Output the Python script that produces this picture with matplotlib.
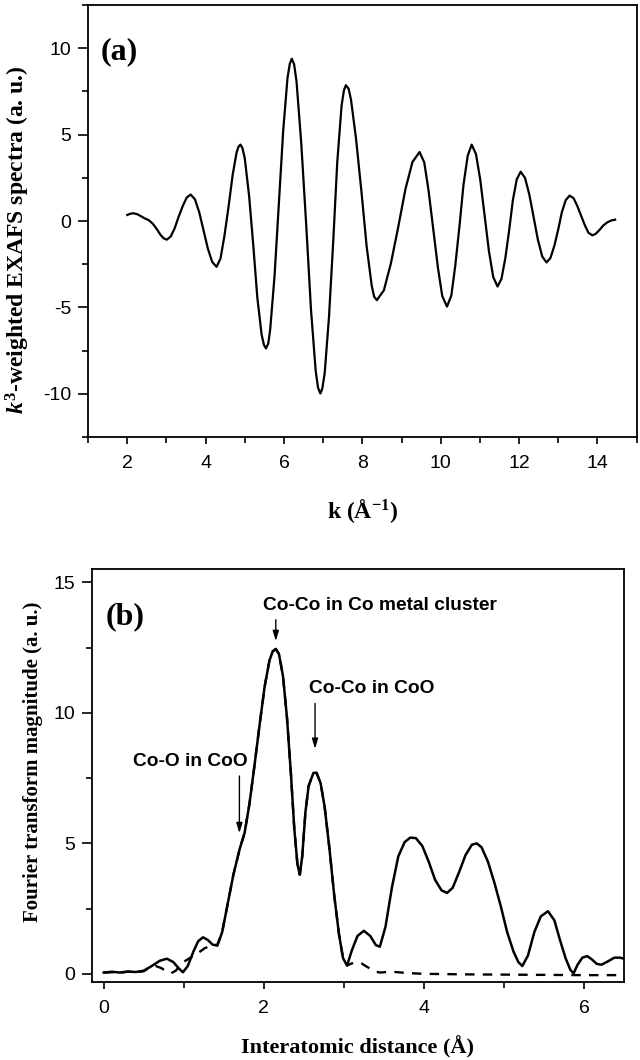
import matplotlib
matplotlib.use("Agg")
import matplotlib.pyplot as plt
from matplotlib.ticker import MultipleLocator

plt.rcParams['font.family'] = ['Liberation Sans', 'DejaVu Sans']
plt.rcParams['axes.unicode_minus'] = False
plt.rcParams['mathtext.fontset'] = 'custom'
plt.rcParams['mathtext.rm'] = 'Liberation Serif:bold'
plt.rcParams['mathtext.it'] = 'Liberation Serif:italic:bold'
plt.rcParams['mathtext.bf'] = 'Liberation Serif:bold'

# (a) k^3-weighted EXAFS spectrum
k = [2.00, 2.08, 2.15, 2.25, 2.35, 2.45, 2.55, 2.65, 2.75, 2.85, 2.93,
     3.01, 3.11, 3.21, 3.31, 3.42, 3.52,
     3.62, 3.73, 3.84, 3.95, 4.06, 4.17,
     4.28, 4.38, 4.48, 4.59, 4.69, 4.79, 4.84,
     4.89, 4.94, 5.00, 5.11, 5.22, 5.32, 5.43, 5.49,
     5.54, 5.60, 5.65, 5.76, 5.87, 5.98, 6.09, 6.15,
     6.20, 6.26, 6.32, 6.44, 6.57, 6.69, 6.81, 6.87,
     6.93, 6.98, 7.04, 7.15, 7.26, 7.36, 7.47, 7.53,
     7.58, 7.65, 7.71, 7.84, 7.98, 8.11, 8.24, 8.30,
     8.37, 8.55, 8.73, 8.92, 9.10, 9.28,
     9.46, 9.58, 9.69, 9.81, 9.93, 10.04,
     10.16, 10.27, 10.37, 10.48, 10.58, 10.69,
     10.79, 10.90, 11.01, 11.12, 11.23, 11.34,
     11.45, 11.55, 11.65, 11.75, 11.84, 11.94,
     12.04, 12.15, 12.26, 12.37, 12.48, 12.59,
     12.70, 12.80, 12.90, 13.00, 13.09, 13.19,
     13.29, 13.39, 13.48, 13.58, 13.68, 13.77,
     13.87, 13.95, 14.05, 14.15, 14.25, 14.35, 14.45]
chi = [0.35, 0.42, 0.45, 0.40, 0.28, 0.15, 0.05, -0.15, -0.45, -0.80, -1.00,
       -1.08, -0.90, -0.43, 0.23, 0.88, 1.36,
       1.53, 1.25, 0.49, -0.56, -1.61, -2.37,
       -2.65, -2.18, -0.88, 0.89, 2.65, 3.95, 4.30,
       4.42, 4.22, 3.63, 1.47, -1.48, -4.42, -6.58, -7.17,
       -7.37, -7.09, -6.25, -3.18, 1.01, 5.20, 8.27, 9.11,
       9.39, 9.06, 8.09, 4.55, -0.30, -5.14, -8.68, -9.65,
       -9.98, -9.68, -8.79, -5.52, -1.06, 3.40, 6.67, 7.56,
       7.86, 7.65, 7.03, 4.75, 1.64, -1.47, -3.75, -4.37,
       -4.58, -4.01, -2.44, -0.30, 1.85, 3.42,
       3.99, 3.39, 1.76, -0.48, -2.72, -4.35,
       -4.95, -4.32, -2.61, -0.27, 2.08, 3.79,
       4.42, 3.87, 2.37, 0.32, -1.74, -3.24,
       -3.79, -3.35, -2.13, -0.47, 1.19, 2.41,
       2.85, 2.50, 1.54, 0.23, -1.09, -2.05,
       -2.40, -2.14, -1.43, -0.47, 0.50, 1.21,
       1.47, 1.32, 0.90, 0.32, -0.26, -0.68,
       -0.83, -0.75, -0.52, -0.25, -0.08, 0.03, 0.08]

# (b) Fourier transform magnitude, experiment (solid)
r = [0.00, 0.10, 0.20, 0.30, 0.40, 0.50, 0.60, 0.70, 0.79, 0.87, 0.94, 0.99,
     1.05, 1.12, 1.18, 1.24, 1.30, 1.36, 1.42,
     1.48, 1.55, 1.62, 1.70, 1.76, 1.82, 1.88, 1.95, 2.01, 2.07, 2.11, 2.15,
     2.19, 2.24, 2.29, 2.34, 2.38, 2.42, 2.45, 2.48, 2.52, 2.56, 2.62, 2.66,
     2.71, 2.76, 2.82, 2.88, 2.94, 2.99, 3.04,
     3.10, 3.17, 3.25, 3.33, 3.40, 3.45, 3.52, 3.60, 3.68, 3.76, 3.83, 3.90,
     3.98, 4.06, 4.14, 4.22, 4.29, 4.36, 4.44, 4.52, 4.60, 4.66, 4.72, 4.80,
     4.88, 4.96, 5.04, 5.12, 5.18, 5.23, 5.30, 5.38, 5.46, 5.55, 5.63, 5.70,
     5.77, 5.83, 5.87, 5.92, 5.98, 6.04, 6.10, 6.16, 6.22, 6.30, 6.38, 6.45, 6.50]
ft = [0.05, 0.08, 0.05, 0.09, 0.07, 0.12, 0.30, 0.50, 0.58, 0.45, 0.20, 0.06,
      0.30, 0.85, 1.25, 1.40, 1.30, 1.12, 1.08,
      1.60, 2.70, 3.80, 4.80, 5.40, 6.50, 7.90, 9.60, 11.00, 12.00, 12.35, 12.45,
      12.25, 11.40, 9.80, 7.60, 5.60, 4.20, 3.80, 4.50, 6.20, 7.20, 7.70, 7.70,
      7.30, 6.40, 4.80, 3.00, 1.50, 0.60, 0.32,
      0.90, 1.45, 1.65, 1.45, 1.10, 1.04, 1.80, 3.30, 4.50, 5.05, 5.22, 5.20,
      4.90, 4.30, 3.60, 3.20, 3.10, 3.30, 3.90, 4.55, 4.95, 5.00, 4.85, 4.30,
      3.50, 2.60, 1.60, 0.85, 0.45, 0.30, 0.70, 1.60, 2.20, 2.40, 2.05, 1.30,
      0.60, 0.15, 0.02, 0.35, 0.62, 0.68, 0.55, 0.38, 0.35, 0.48, 0.62, 0.62, 0.58]

# (b) fit (dashed)
r_fit = [0.00, 0.10, 0.20, 0.30, 0.40, 0.50, 0.58, 0.65, 0.72, 0.78, 0.84, 0.90,
         0.96, 1.02, 1.10, 1.18, 1.26, 1.34, 1.42,
         1.48, 1.55, 1.62, 1.70, 1.76, 1.82, 1.88, 1.95, 2.01, 2.07, 2.11, 2.15,
         2.19, 2.24, 2.29, 2.34, 2.38, 2.42, 2.45, 2.48, 2.52, 2.56, 2.62, 2.66,
         2.71, 2.76, 2.82, 2.88, 2.94, 2.99, 3.04,
         3.10, 3.16, 3.22, 3.30, 3.38, 3.45, 3.60, 3.80, 4.00, 4.50, 5.00, 5.50,
         6.00, 6.45]
ft_fit = [0.05, 0.06, 0.04, 0.08, 0.06, 0.10, 0.25, 0.30, 0.22, 0.10, 0.02, 0.12,
          0.35, 0.50, 0.65, 0.80, 0.98, 1.08, 1.12,
          1.60, 2.70, 3.80, 4.80, 5.40, 6.50, 7.90, 9.60, 11.00, 12.00, 12.35, 12.45,
          12.25, 11.40, 9.80, 7.60, 5.60, 4.20, 3.80, 4.50, 6.20, 7.20, 7.70, 7.70,
          7.30, 6.40, 4.80, 3.00, 1.50, 0.60, 0.32,
          0.40, 0.43, 0.40, 0.25, 0.10, 0.05, 0.08, 0.03, 0.00, -0.02, -0.03, -0.04,
          -0.05, -0.05]

fig = plt.figure(figsize=(6.4, 10.6), dpi=100)

label_font = dict(family='Liberation Serif', weight='bold')

# ---- panel (a)
ax1 = fig.add_axes([0.1375, 0.5877, 0.8573, 0.4076])
ax1.plot(k, chi, color='black', lw=1.6)
ax1.set_xlim(1, 15)
ax1.set_ylim(-12.5, 12.5)
ax1.xaxis.set_major_locator(MultipleLocator(2))
ax1.xaxis.set_minor_locator(MultipleLocator(1))
ax1.yaxis.set_major_locator(MultipleLocator(5))
ax1.yaxis.set_minor_locator(MultipleLocator(2.5))
ax1.set_xlabel(r'k (Å$^{-1}$)', fontsize=17, **label_font)
ax1.set_ylabel(r'$k^{3}$-weighted EXAFS spectra (a. u.)', fontsize=17, **label_font)
ax1.xaxis.set_label_coords(0.5, -0.14)
ax1.yaxis.set_label_coords(-0.102, 0.456)
ax1.text(1.31, 9.8, '(a)', fontsize=23, ha='left', va='center', **label_font)

# ---- panel (b)
ax2 = fig.add_axes([0.1433, 0.0739, 0.8317, 0.3890])
ax2.plot(r_fit, ft_fit, color='black', lw=1.7, linestyle=(0, (4, 3.5)))
ax2.plot(r, ft, color='black', lw=1.8)
ax2.set_xlim(-0.15, 6.5)
ax2.set_ylim(-0.3, 15.5)
ax2.xaxis.set_major_locator(MultipleLocator(2))
ax2.xaxis.set_minor_locator(MultipleLocator(1))
ax2.yaxis.set_major_locator(MultipleLocator(5))
ax2.yaxis.set_minor_locator(MultipleLocator(2.5))
ax2.set_xlabel('Interatomic distance (Å)', fontsize=16, **label_font)
ax2.set_ylabel('Fourier transform magnitude (a. u.)', fontsize=15, **label_font)
ax2.xaxis.set_label_coords(0.5, -0.132)
ax2.yaxis.set_label_coords(-0.0915, 0.534)
ax2.text(0.03, 13.7, '(b)', fontsize=23, ha='left', va='center', **label_font)

arrow = dict(arrowstyle='-|>,head_length=0.6,head_width=0.18', color='black', lw=1.0,
             shrinkA=0, shrinkB=0)
note = dict(fontsize=13.8, weight='bold', ha='left', va='center')
ax2.text(1.985, 14.13, 'Co-Co in Co metal cluster', **note)
ax2.annotate('', xy=(2.15, 12.75), xytext=(2.15, 13.57), arrowprops=arrow)
ax2.text(2.57, 10.94, 'Co-Co in CoO', **note)
ax2.annotate('', xy=(2.64, 8.62), xytext=(2.64, 10.36), arrowprops=arrow)
ax2.text(0.37, 8.13, 'Co-O in CoO', **note)
ax2.annotate('', xy=(1.695, 5.39), xytext=(1.695, 7.58), arrowprops=arrow)

for ax in (ax1, ax2):
    for s in ax.spines.values():
        s.set_linewidth(1.3)
    ax.tick_params(which='both', direction='out', top=False, right=False,
                   labelsize=14, width=1.2)
    ax.tick_params(axis='x', which='major', length=5, pad=8)
    ax.tick_params(axis='x', which='minor', length=4)
    ax.tick_params(axis='y', which='major', length=7, pad=5)
    ax.tick_params(axis='y', which='minor', length=4)

fig.savefig('out.png', dpi=100)
